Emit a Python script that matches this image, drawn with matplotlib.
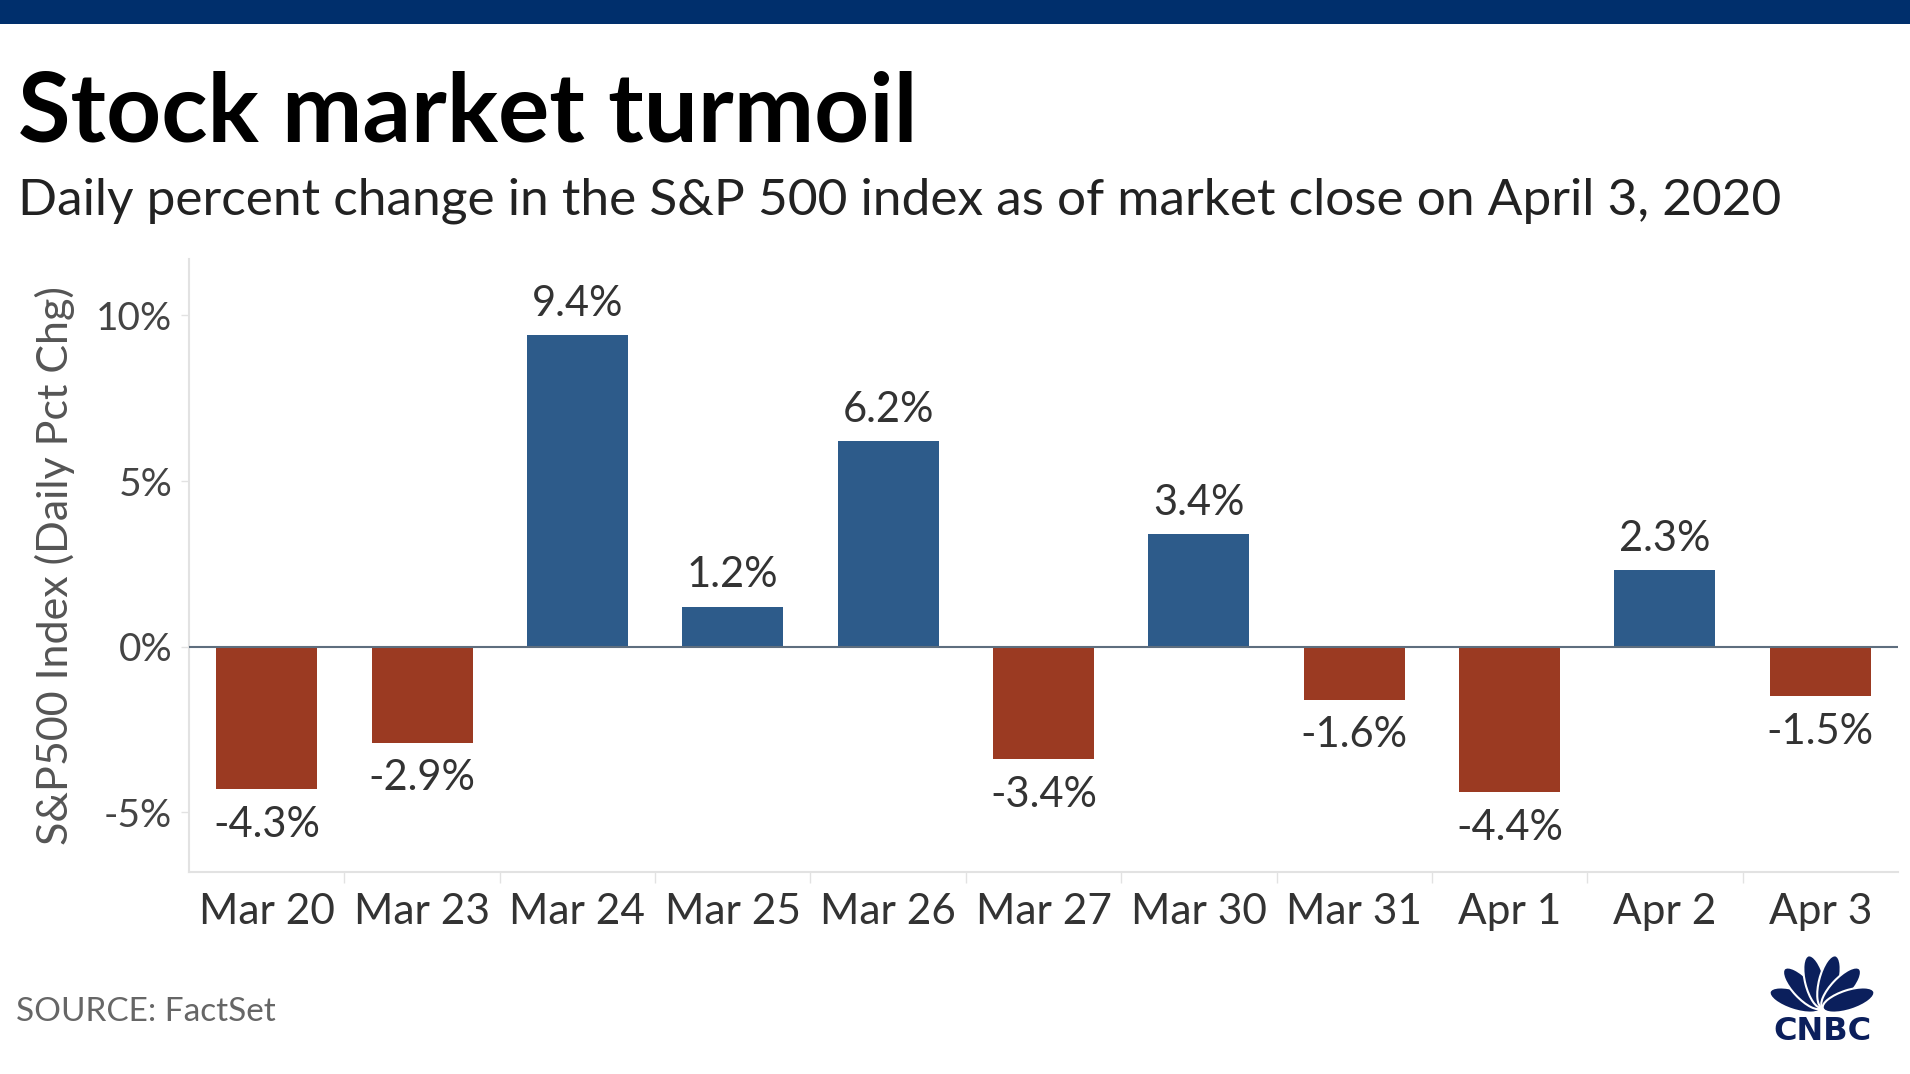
import numpy as np
import matplotlib
matplotlib.use("Agg")
import matplotlib.pyplot as plt
from matplotlib.patches import Ellipse, Rectangle

# data
dates = ['Mar 20', 'Mar 23', 'Mar 24', 'Mar 25', 'Mar 26', 'Mar 27',
         'Mar 30', 'Mar 31', 'Apr 1', 'Apr 2', 'Apr 3']
pct_change = [-4.3, -2.9, 9.4, 1.2, 6.2, -3.4, 3.4, -1.6, -4.4, 2.3, -1.5]

y_ticks = [-5, 0, 5, 10]
y_tick_labels = ['-5%', '0%', '5%', '10%']

BLUE = '#2D5B8A'
RED = '#9B3A22'
NAVY = '#002F6C'
LOGO = '#0B1F5C'
TEXT = '#333333'

plt.rcParams['font.family'] = ['Lato', 'DejaVu Sans']

W, H = 1910, 1074
fig = plt.figure(figsize=(W / 100, H / 100), dpi=100)
fig.patch.set_facecolor('white')

# top navy band
fig.add_artist(Rectangle((0, 1 - 24 / H), 1, 24 / H, transform=fig.transFigure,
                         color=NAVY, lw=0))

fig.text(18 / W, 1 - 142 / H, 'Stock market turmoil', fontsize=69,
         fontweight='bold', color='black', va='baseline', ha='left')
fig.text(18 / W, 1 - 215 / H,
         'Daily percent change in the S&P 500 index as of market close on April 3, 2020',
         fontsize=37, color='#222222', va='baseline', ha='left')
fig.text(16 / W, 1 - 1021 / H, 'SOURCE: FactSet', fontsize=24, color='#666666',
         va='baseline', ha='left')

ax = fig.add_axes([189 / W, 1 - 872 / H, (1898 - 189) / W, (872 - 259) / H])
x = np.arange(len(dates))
colors = [BLUE if v >= 0 else RED for v in pct_change]
ax.bar(x, pct_change, width=0.65, color=colors, zorder=2)
ax.axhline(0, color='#5E6E7E', lw=1.5, zorder=3)

for xi, v in zip(x, pct_change):
    if v >= 0:
        ax.annotate(f'{v:.1f}%', (xi, v), xytext=(0, 14), textcoords='offset points',
                    ha='center', va='baseline', fontsize=30, color=TEXT)
    else:
        ax.annotate(f'{v:.1f}%', (xi, v), xytext=(0, -12), textcoords='offset points',
                    ha='center', va='top', fontsize=30, color=TEXT)

ax.set_xlim(-0.5, len(dates) - 0.5)
ax.set_ylim(-6.8, 11.7)
ax.set_xticks(x)
ax.set_xticklabels(dates, fontsize=30.5, color=TEXT)
ax.set_xticks(np.arange(0.5, len(dates) - 0.5, 1), minor=True)
ax.tick_params(axis='x', which='major', length=0, pad=15)
ax.tick_params(axis='x', which='minor', length=8, width=1, color='#E2E2E2')
ax.set_yticks(y_ticks)
ax.set_yticklabels(y_tick_labels, fontsize=28, color='#444444')
ax.tick_params(axis='y', length=6, width=1, color='#E2E2E2', pad=6)

for side in ['top', 'right']:
    ax.spines[side].set_visible(False)
for side in ['left', 'bottom']:
    ax.spines[side].set_color('#E2E2E2')
    ax.spines[side].set_linewidth(1.5)

ax.set_ylabel('S&P500 Index (Daily Pct Chg)', fontsize=31, color='#555555')
ax.yaxis.label.set_va('center')
ax.yaxis.set_label_coords(-0.0784, 0.5)

# CNBC peacock
lg = fig.add_axes([1766 / W, 1 - 1046 / H, 112 / W, 90 / H])
lg.set_xlim(-1.24, 1.24)
lg.set_ylim(-0.75, 1.25)
lg.set_aspect('equal')
lg.axis('off')
for ang in np.linspace(162, 18, 6):
    r = np.deg2rad(ang)
    lg.add_patch(Ellipse((0.62 * np.cos(r), 0.08 + 0.62 * np.sin(r)), 0.44, 1.2,
                         angle=ang - 90, facecolor=LOGO, edgecolor='white', lw=1.5))
lg.text(0, -0.42, 'CNBC', ha='center', va='center', fontsize=23,
        fontweight='bold', color=LOGO, family=['DejaVu Sans'])

fig.savefig('out.png', dpi=100)
